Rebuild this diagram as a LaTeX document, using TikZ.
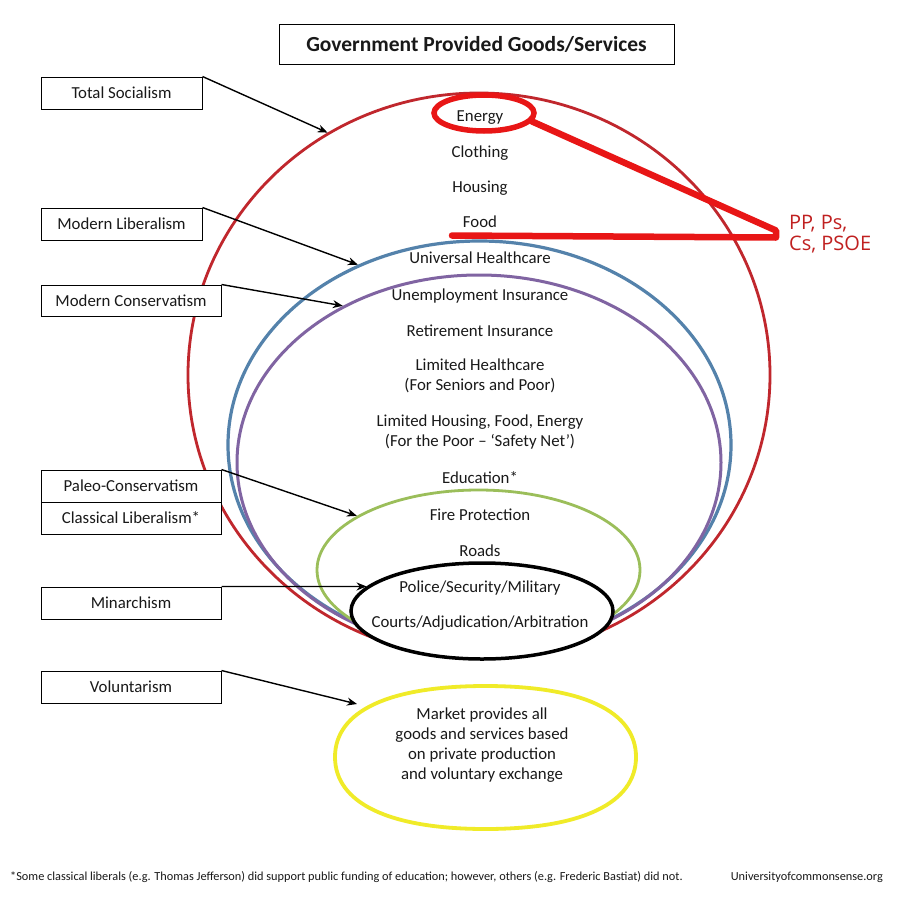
\documentclass[tikz,border=0pt]{standalone}
\usepackage{fontspec}
\setmainfont{Carlito}
\newfontfamily\annotfont{Open Sans}
\usetikzlibrary{shapes.geometric,arrows.meta}
\definecolor{redE}{RGB}{192,39,45}
\definecolor{blueE}{RGB}{84,130,171}
\definecolor{purpleE}{RGB}{128,100,162}
\definecolor{greenE}{RGB}{155,190,90}
\definecolor{yellowE}{RGB}{240,235,40}
\definecolor{hlred}{RGB}{232,22,22}
\definecolor{annotred}{RGB}{192,32,32}
\definecolor{inkc}{RGB}{25,25,25}
\newcommand\txtA{\fontsize{16.8}{20}\selectfont}
\newcommand\txtF{\fontsize{12.3}{14}\selectfont}
\begin{document}
\begin{tikzpicture}[x=1pt,y=-1pt,
  ring/.style={ellipse, inner sep=0pt},
  item/.style={anchor=base, inner sep=0pt, text=inkc, font=\txtA},
  multi/.style={anchor=center, inner sep=0pt, text=inkc, font=\txtA, align=center},
  lbl/.style={draw=black, fill=white, line width=1pt, inner sep=0pt, text=inkc, font=\txtA},
  arr/.style={-{Stealth[length=10pt,width=8pt]}, line width=1.4pt, black},
  hl/.style={draw=hlred, line width=5.5pt}]
\useasboundingbox (0,0) rectangle (897,897);
\fill[white] (0,0) rectangle (897,897);

% nested ellipses
\node[ring, draw=redE, line width=2.8pt, minimum width=582pt, minimum height=564pt] (red) at (479,375) {};
\node[ring, draw=blueE, line width=3.2pt, minimum width=503pt, minimum height=408pt] (blue) at (479.5,445) {};
\node[ring, draw=purpleE, line width=3pt, minimum width=484pt, minimum height=375pt] (purple) at (479,462.5) {};
\node[ring, draw=greenE, line width=2.8pt, minimum width=323pt, minimum height=160pt] (green) at (478.5,570) {};
% yellow: slightly squarish oval
\draw[draw=yellowE, line width=3.8pt]
  (636,757) .. controls (636,803) and (582,829) .. (485.5,829)
            .. controls (389,829) and (335,803) .. (335,757)
            .. controls (335,711) and (389,686) .. (485.5,686)
            .. controls (582,686) and (636,711) .. (636,757) -- cycle;
\node[ring, draw=black, fill=white, line width=3.5pt, minimum width=262pt, minimum height=96pt] (black) at (482,611) {};

% title
\node[lbl, minimum width=395pt, minimum height=40pt, font=\fontsize{21.5}{25}\selectfont\bfseries] (title) at (476.5,44) {Government Provided Goods/Services};

% items
\node[item] (energy) at (480,121) {Energy};
\node[item] (clothing) at (480,157) {Clothing};
\node[item] (housing) at (480,192) {Housing};
\node[item] (food) at (480,227) {Food};
\node[item] (uh) at (480,263) {Universal Healthcare};
\node[item] (ui) at (480,300) {Unemployment Insurance};
\node[item] (ri) at (480,336) {Retirement Insurance};
\node[multi] (lh) at (480,376) {Limited Healthcare\\(For Seniors and Poor)};
\node[multi] (lhf) at (480,432) {Limited Housing, Food, Energy\\(For the Poor -- ‘Safety Net’)};
\node[item] (edu) at (480,483) {Education*};
\node[item] (fire) at (480,520) {Fire Protection};
\node[item] (roads) at (480,556) {Roads};
\node[item] (police) at (480,592) {Police/Security/Military};
\node[item] (courts) at (480,627) {Courts/Adjudication/Arbitration};
\node[multi] (market) at (482,745) {Market provides all\\goods and services based\\on private production\\and voluntary exchange};

% labels
\node[lbl, minimum width=161pt, minimum height=32pt] (ts) at (121.5,93) {Total Socialism};
\node[lbl, minimum width=161pt, minimum height=32pt] (ml) at (121.5,224) {Modern Liberalism};
\node[lbl, minimum width=180pt, minimum height=31pt] (mc) at (131,300.5) {Modern Conservatism};
\node[lbl, minimum width=180pt, minimum height=32pt] (paleo) at (131,486) {Paleo-Conservatism};
\node[lbl, minimum width=180pt, minimum height=32pt] (cl) at (131,518) {Classical Liberalism*};
\node[lbl, minimum width=180pt, minimum height=32pt] (mi) at (131,603) {Minarchism};
\node[lbl, minimum width=180pt, minimum height=32pt] (vo) at (131,687) {Voluntarism};

% arrows
\coordinate (ytip) at (357,704);
\draw[arr] (ts.north east) -- (red.122.9);
\draw[arr] (ml.north east) -- (blue.124.1);
\draw[arr] (mc.north east) -- (purple.131.6);
\draw[arr] (paleo.north east) -- (green.156.8);
\draw[arr] (mi.north east) -- (black.168.1);
\draw[arr] (vo.north east) -- (ytip);

% highlight annotation
\node[ring, hl, minimum width=100pt, minimum height=36pt] (hl) at (484,113) {};
\coordinate (pA) at (776,230.5);
\coordinate (pB) at (776,237.5);
\coordinate (pC) at (452,235.5);
\draw[draw=hlred, line width=6.5pt, line join=round, line cap=round] (hl.-10) -- (pA) -- (pB) -- (pC);
\node[anchor=west, inner sep=0pt, align=left, text=annotred, font=\annotfont\fontsize{20}{21}\selectfont] (parties) at (789,234) {PP, Ps,\\Cs, PSOE};

% footer
\node[anchor=base west, inner sep=0pt, text=inkc, font=\txtF] (fn) at (10,880) {*Some classical liberals (e.g. Thomas Jefferson) did support public funding of education; however, others (e.g. Frederic Bastiat) did not.};
\node[anchor=base east, inner sep=0pt, text=inkc, font=\txtF] (url) at (883,880) {Universityofcommonsense.org};
\end{tikzpicture}
\end{document}
